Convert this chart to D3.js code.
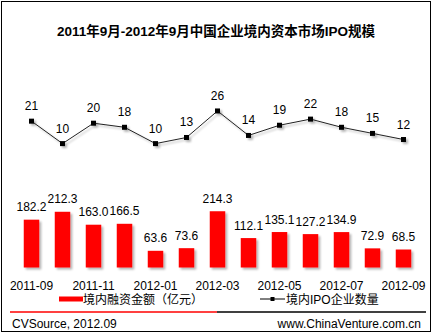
<!DOCTYPE html>
<html>
<head>
<meta charset="utf-8">
<script src="https://cdn.jsdelivr.net/npm/d3@7"></script>
<style>
  html, body { margin: 0; padding: 0; background: #fff; }
  svg { display: block; }
  text { font-family: "Liberation Sans", Arial, "Noto Sans CJK SC", sans-serif; fill: #000; }
</style>
</head>
<body>
<svg id="chart" width="435" height="335"></svg>
<script>
// Monthly IPO activity on China's domestic capital markets
const months = ["2011-09","2011-10","2011-11","2011-12","2012-01","2012-02","2012-03",
                "2012-04","2012-05","2012-06","2012-07","2012-08","2012-09"];
const tickMonths = ["2011-09","2011-11","2012-01","2012-03","2012-05","2012-07","2012-09"];
const fundsRaised = [182.2, 212.3, 163.0, 166.5, 63.6, 73.6, 214.3, 112.1, 135.1, 127.2, 134.9, 72.9, 68.5];
const ipoCount = [21, 10, 20, 18, 10, 13, 26, 14, 19, 22, 18, 15, 12];
const barDomain = [0, 800];
const lineDomain = [-50, 50];

const titleText = "2011年9月-2012年9月中国企业境内资本市场IPO规模";
const barLegend = "境内融资金额（亿元）";
const lineLegend = "境内IPO企业数量";
const sourceText = "CVSource, 2012.09";
const siteText = "www.ChinaVenture.com.cn";

const svg = d3.select("#chart");

const defs = svg.append("defs");
const shadow = defs.append("filter").attr("id", "shadow")
  .attr("x", "-20%").attr("y", "-20%").attr("width", "160%").attr("height", "160%");
shadow.append("feGaussianBlur").attr("in", "SourceAlpha").attr("stdDeviation", 1).attr("result", "b");
shadow.append("feOffset").attr("in", "b").attr("dx", 2).attr("dy", 2).attr("result", "o");
shadow.append("feComponentTransfer").attr("in", "o").attr("result", "s")
  .append("feFuncA").attr("type", "linear").attr("slope", 0.3);
const merge = shadow.append("feMerge");
merge.append("feMergeNode").attr("in", "s");
merge.append("feMergeNode").attr("in", "SourceGraphic");

// frame
svg.append("rect").attr("x", 1.5).attr("y", 1.5).attr("width", 429).attr("height", 330)
  .attr("fill", "#fff").attr("stroke", "#000").attr("stroke-width", 1);

// title
svg.append("text").attr("x", 216).attr("y", 36).attr("text-anchor", "middle")
  .style("font-size", "13.5px").style("font-weight", "bold").text(titleText);

// scales
const x = d3.scaleBand().domain(months).range([16, 419]).paddingInner(0.5).paddingOuter(0.25);
const yBar = d3.scaleLinear().domain(barDomain).range([267.5, 57.5]);
const yLine = d3.scaleLinear().domain(lineDomain).range([266, 62]);
const cx = m => x(m) + x.bandwidth() / 2;

// bars
const barData = months.map((m, i) => ({ m, v: fundsRaised[i] }));
svg.append("g").attr("filter", "url(#shadow)")
  .selectAll("rect").data(barData).join("rect")
  .attr("x", d => x(d.m)).attr("width", x.bandwidth())
  .attr("y", d => yBar(d.v)).attr("height", d => yBar(0) - yBar(d.v))
  .attr("fill", "#ff0000");

svg.append("g").selectAll("text").data(barData).join("text")
  .attr("x", d => cx(d.m)).attr("y", d => yBar(d.v) - 8.5)
  .attr("text-anchor", "middle").style("font-size", "12px")
  .text(d => d.v.toFixed(1));

// line series
const lineData = months.map((m, i) => ({ m, v: ipoCount[i] }));
const lineGen = d3.line().x(d => cx(d.m)).y(d => yLine(d.v));
const lg = svg.append("g").attr("filter", "url(#shadow)");
lg.append("path").datum(lineData).attr("d", lineGen)
  .attr("fill", "none").attr("stroke", "#222").attr("stroke-width", 1);
lg.selectAll("rect").data(lineData).join("rect")
  .attr("x", d => cx(d.m) - 2.5).attr("y", d => yLine(d.v) - 2.5)
  .attr("width", 5).attr("height", 5).attr("fill", "#000");

svg.append("g").selectAll("text").data(lineData).join("text")
  .attr("x", d => cx(d.m)).attr("y", d => yLine(d.v) - 11)
  .attr("text-anchor", "middle").style("font-size", "12px")
  .text(d => d.v);

// category axis (labels only)
const xAxis = d3.axisBottom(x).tickValues(tickMonths).tickSize(0).tickPadding(0);
const axG = svg.append("g").attr("transform", "translate(0,281)").call(xAxis);
axG.select(".domain").remove();
axG.selectAll("text").style("font-size", "12px")
  .style("font-family", "\"Liberation Sans\", Arial, sans-serif").attr("fill", "#000");

// legend
const leg = svg.append("g");
leg.append("rect").attr("x", 59).attr("y", 296.5).attr("width", 24).attr("height", 5).attr("fill", "#ff0000");
leg.append("text").attr("x", 83).attr("y", 303.5).style("font-size", "12px").text(barLegend);
leg.append("line").attr("x1", 260).attr("x2", 285).attr("y1", 299).attr("y2", 299)
  .attr("stroke", "#000").attr("stroke-width", 1);
leg.append("rect").attr("x", 270.5).attr("y", 297).attr("width", 4).attr("height", 4).attr("fill", "#000");
leg.append("text").attr("x", 286).attr("y", 303.5).style("font-size", "12px").text(lineLegend);

// footer divider
svg.append("line").attr("x1", 10).attr("x2", 217).attr("y1", 312).attr("y2", 312)
  .attr("stroke", "#ff0000").attr("stroke-width", 1.5);
svg.append("line").attr("x1", 217).attr("x2", 426).attr("y1", 312).attr("y2", 312)
  .attr("stroke", "#000").attr("stroke-width", 1.5);

svg.append("text").attr("x", 12).attr("y", 327.5).style("font-size", "12px").text(sourceText);
svg.append("text").attr("x", 421).attr("y", 327.5).attr("text-anchor", "end")
  .style("font-size", "12px").text(siteText);
</script>
</body>
</html>
